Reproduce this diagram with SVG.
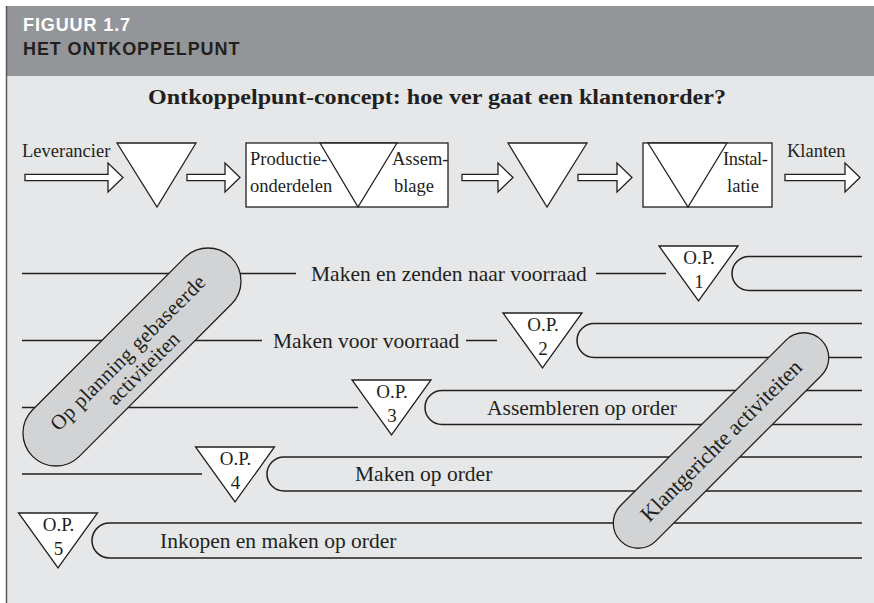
<svg xmlns="http://www.w3.org/2000/svg" width="874" height="603" viewBox="0 0 874 603">
<style>
.ser{font-family:"Liberation Serif","Times New Roman",serif;fill:#231f20}
.ln{stroke:#231f20;stroke-width:1.5;fill:none}
.shp{stroke:#231f20;stroke-width:1.3;fill:#fff}
.pill{fill:#d1d3d4;stroke:#231f20;stroke-width:1.3}
.op{font-size:19px;text-anchor:middle}
.row{font-size:21.5px}
.top{font-size:18.5px}
.hdr{font-family:"Liberation Sans",Arial,sans-serif;font-weight:bold;font-size:18px;letter-spacing:0.9px}
</style>
<rect x="0" y="0" width="874" height="603" fill="#fff"/>
<rect x="6" y="6" width="868" height="70" fill="#939598"/>
<rect x="6" y="76" width="868" height="527" fill="#e6e7e8"/>
<line x1="6.5" y1="6" x2="6.5" y2="603" stroke="#58595b" stroke-width="1.5"/>
<text x="23" y="31" class="hdr" fill="#fff">FIGUUR 1.7</text>
<text x="23" y="54.5" class="hdr" fill="#231f20">HET ONTKOPPELPUNT</text>
<text x="437" y="104" class="ser" font-size="22" font-weight="bold" text-anchor="middle" textLength="578" lengthAdjust="spacingAndGlyphs">Ontkoppelpunt-concept: hoe ver gaat een klantenorder?</text>

<g id="top-row">
<g id="leverancier">
<text x="22" y="157" class="ser top">Leverancier</text>
<path class="shp" d="M25,174.3 H108 V163 L123,177.5 L108,192 V180.7 H25 Z"/>
</g>
<g id="voorraad1"><path class="shp" d="M117,143 H196 L157,207 Z"/></g>
<g id="pijl2"><path class="shp" d="M187,174.3 H225 V163 L240,177.5 L225,192 V180.7 H187 Z"/></g>
<g id="productie">
<rect class="shp" x="246" y="143" width="202" height="64"/>
<path class="shp" d="M320,143 H397 L358,207 Z"/>
<text x="250" y="165" class="ser top">Productie-</text>
<text x="250" y="192" class="ser top">onderdelen</text>
<text x="392" y="165" class="ser top">Assem-</text>
<text x="414" y="192" class="ser top" text-anchor="middle">blage</text>
</g>
<g id="pijl3"><path class="shp" d="M462,174.3 H498 V163 L513,177.5 L498,192 V180.7 H462 Z"/></g>
<g id="voorraad2"><path class="shp" d="M508,143 H587 L547,207 Z"/></g>
<g id="pijl4"><path class="shp" d="M578,174.3 H617 V163 L632,177.5 L617,192 V180.7 H578 Z"/></g>
<g id="installatie">
<rect class="shp" x="643" y="143" width="129" height="64"/>
<path class="shp" d="M648,143 H727 L688,207 Z"/>
<text x="723" y="165" class="ser top" textLength="45">Instal-</text>
<text x="743" y="192" class="ser top" text-anchor="middle">latie</text>
</g>
<g id="klanten">
<text x="787" y="157" class="ser top">Klanten</text>
<path class="shp" d="M785,174.3 H845 V163 L860,177.5 L845,192 V180.7 H785 Z"/>
</g>
</g>

<g id="connectors">
<path class="ln" d="M22,273.5 H296 M596,273.5 H666"/>
<path class="ln" d="M22,340.5 H262 M466,340.5 H497"/>
<path class="ln" d="M22,407.5 H358"/>
<path class="ln" d="M22,474 H202"/>
<path class="ln" d="M862,256.5 H749 A17,17 0 0 0 749,290.5 H862"/>
<path class="ln" d="M862,323.5 H594 A17,17 0 0 0 594,357.5 H862"/>
<path class="ln" d="M862,390.5 H442 A17,17 0 0 0 442,424.5 H862"/>
<path class="ln" d="M862,457 H284 A17,17 0 0 0 284,491 H862"/>
<path class="ln" d="M862,523 H109.5 A17.5,17.5 0 0 0 109.5,558 H862"/>
</g>

<g id="labels">
<text x="311" y="281" class="ser row">Maken en zenden naar voorraad</text>
<text x="273" y="348" class="ser row">Maken voor voorraad</text>
<text x="487" y="415" class="ser row">Assembleren op order</text>
<text x="355" y="481" class="ser row">Maken op order</text>
<text x="160" y="548" class="ser row">Inkopen en maken op order</text>
</g>

<g id="op1"><path class="shp" d="M659,246 H738 L698.5,301 Z"/><text x="699" y="264" class="ser op">O.P.</text><text x="699" y="288" class="ser op">1</text></g>
<g id="op2"><path class="shp" d="M503,313 H582 L542.5,368 Z"/><text x="543" y="331" class="ser op">O.P.</text><text x="543" y="355" class="ser op">2</text></g>
<g id="op3"><path class="shp" d="M352,380 H431 L391.5,435 Z"/><text x="392" y="398" class="ser op">O.P.</text><text x="392" y="422" class="ser op">3</text></g>
<g id="op4"><path class="shp" d="M195.5,447 H274.5 L235,502 Z"/><text x="235.5" y="465" class="ser op">O.P.</text><text x="235.5" y="489" class="ser op">4</text></g>
<g id="op5"><path class="shp" d="M18.5,513 H97.5 L58,568 Z"/><text x="58.5" y="531" class="ser op">O.P.</text><text x="58.5" y="555" class="ser op">5</text></g>

<g id="planning" transform="translate(132,357) rotate(-45)">
<rect class="pill" x="-140.5" y="-33" width="281" height="66" rx="33"/>
<text x="0" y="1" class="ser" font-size="21" text-anchor="middle" textLength="210">Op planning gebaseerde</text>
<text x="0" y="23" class="ser" font-size="21" text-anchor="middle">activiteiten</text>
</g>
<g id="klantgericht" transform="translate(721,440.5) rotate(-45)">
<rect class="pill" x="-142" y="-25" width="284" height="50" rx="25"/>
<text x="0" y="7.5" class="ser" font-size="22" text-anchor="middle" textLength="218">Klantgerichte activiteiten</text>
</g>
</svg>
